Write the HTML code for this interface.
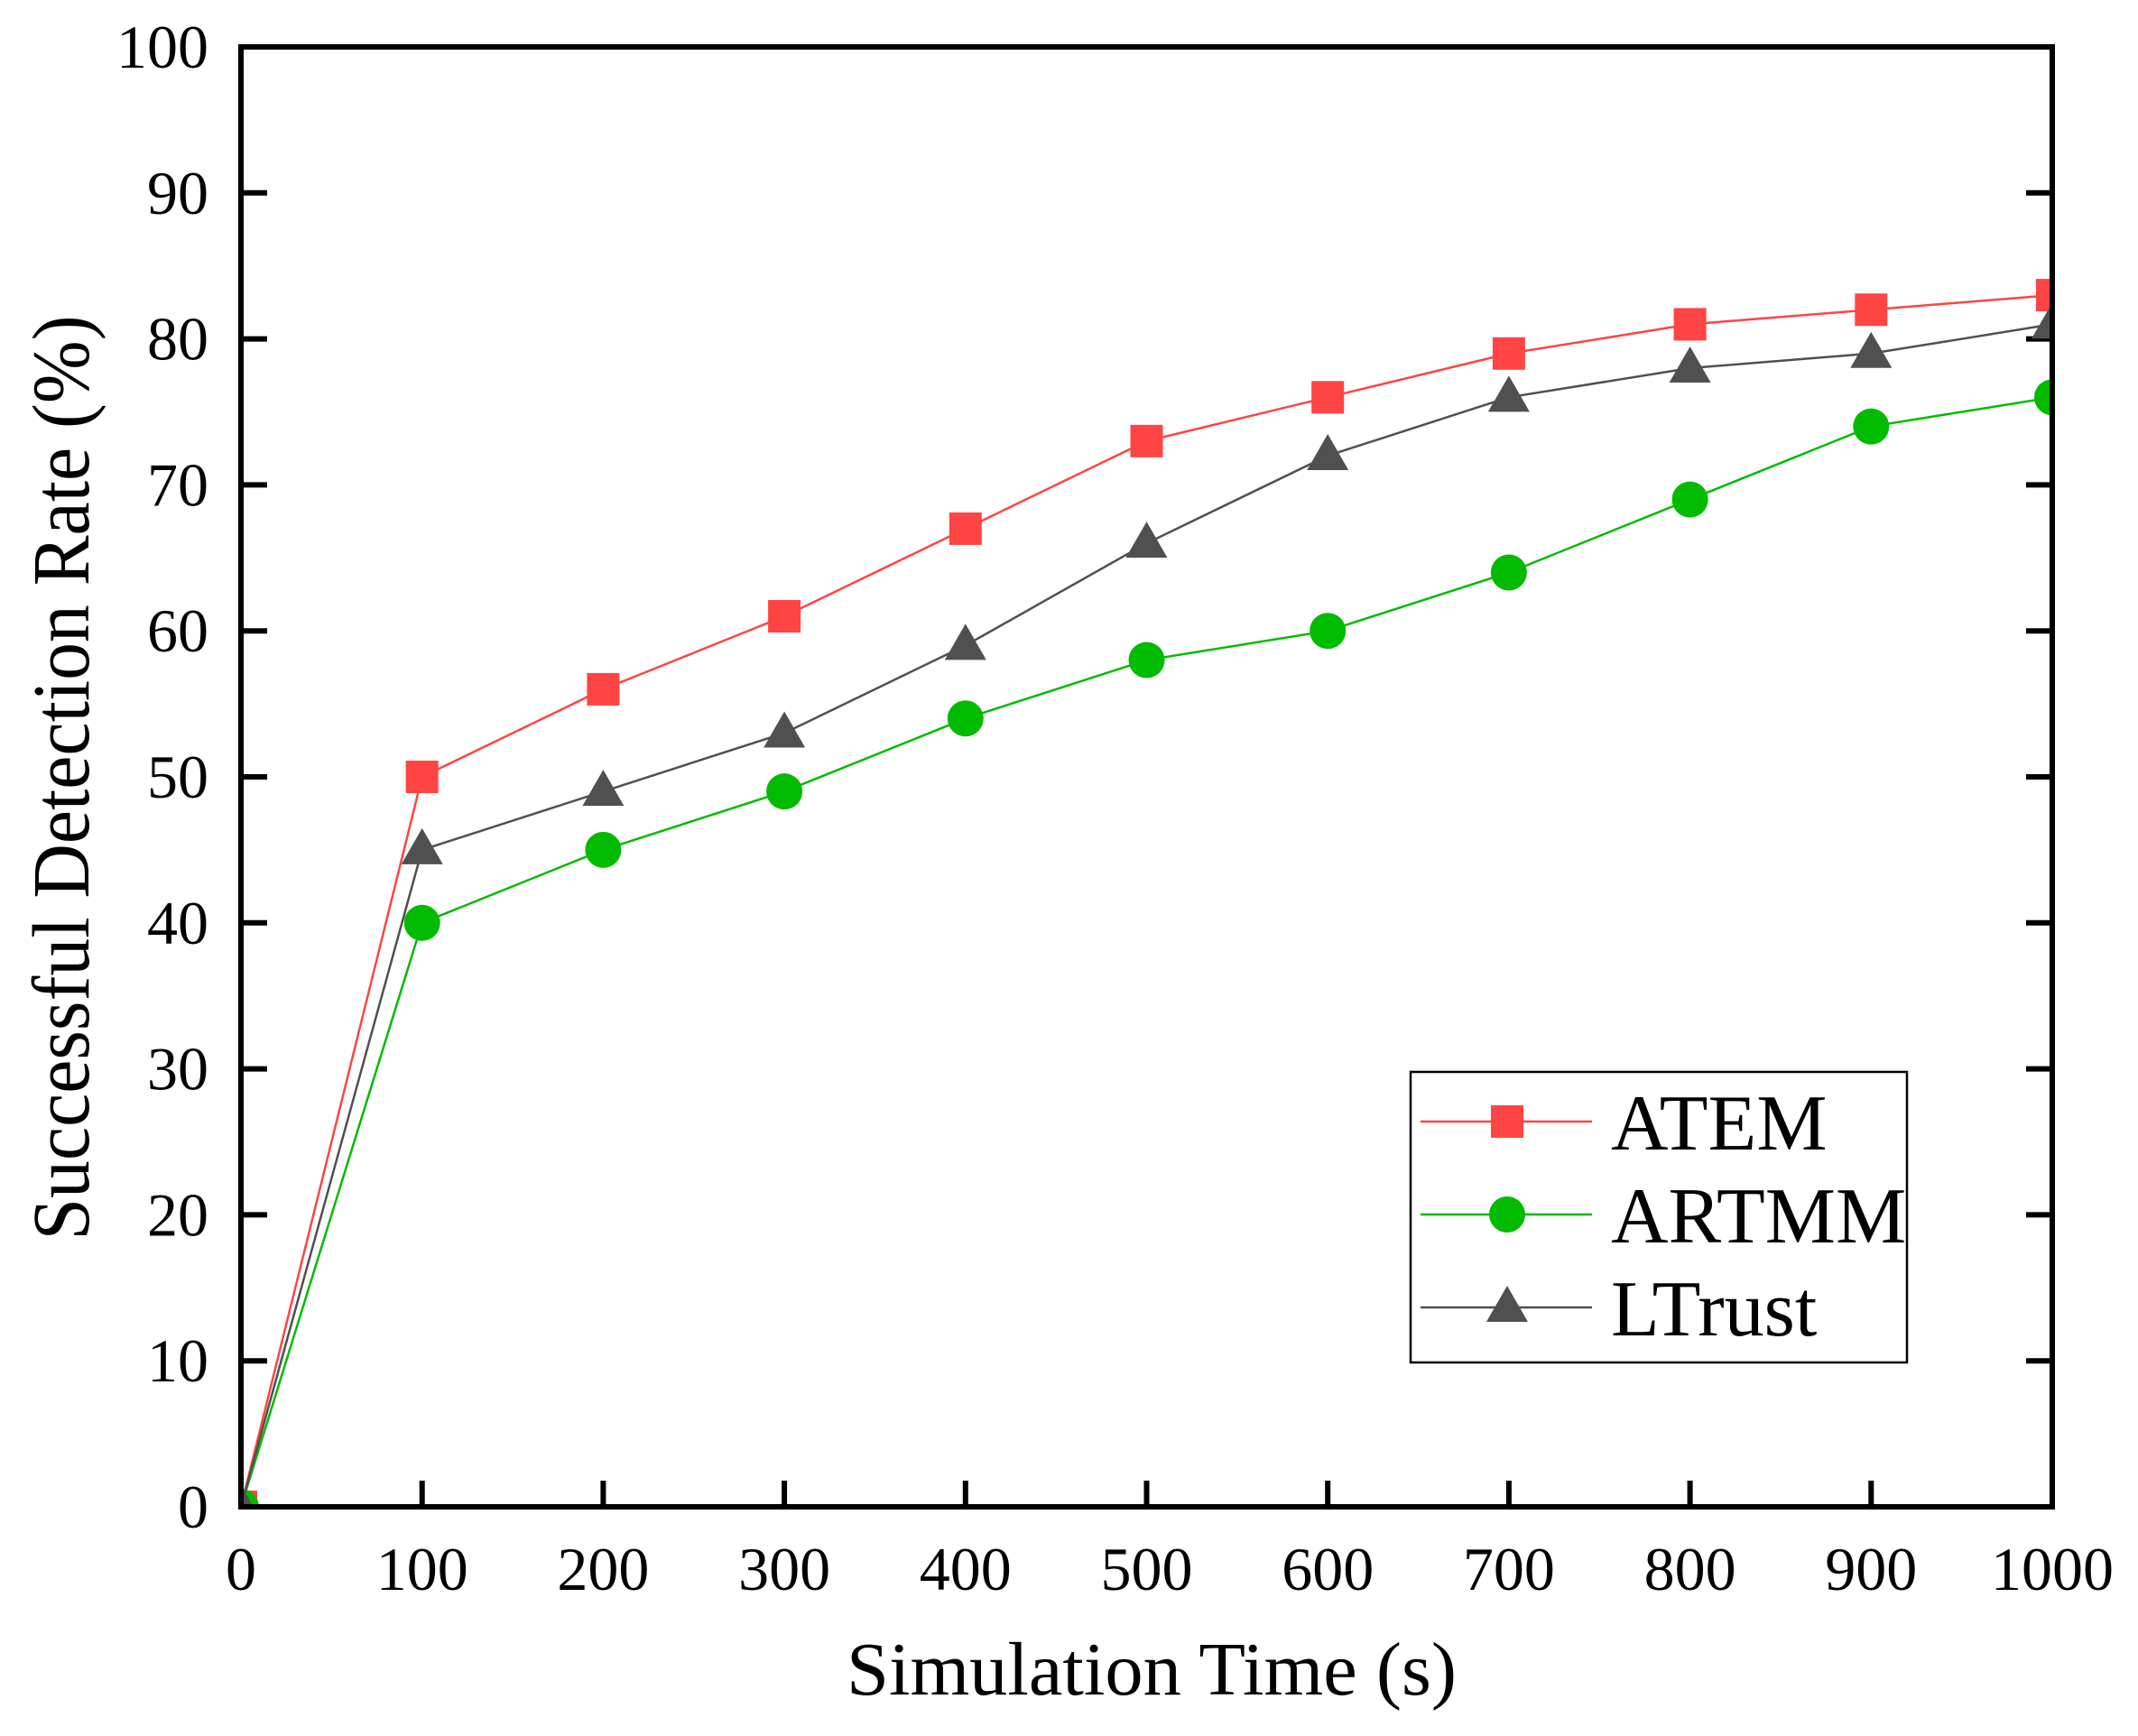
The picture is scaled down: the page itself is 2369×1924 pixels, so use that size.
<!DOCTYPE html>
<html><head><meta charset="utf-8"><style>
html,body{margin:0;padding:0;background:#fff;}
svg{display:block;font-family:"Liberation Serif",serif;}
</style></head><body>
<svg id="chart" width="2369" height="1924" viewBox="0 0 2369 1924" xmlns="http://www.w3.org/2000/svg">
<defs><clipPath id="plotclip"><rect x="267" y="52" width="2007" height="1618"/></clipPath></defs>
<g id="grid-ticks"></g>
<g id="series" clip-path="url(#plotclip)"></g>
<rect x="267" y="52" width="2007" height="1618" fill="none" stroke="#000" stroke-width="6"/>
<g id="labels"></g>
<text x="1276" y="1878" font-size="84" text-anchor="middle" textLength="676" lengthAdjust="spacingAndGlyphs">Simulation Time (s)</text>
<text transform="translate(98,862) rotate(-90)" font-size="90" text-anchor="middle" textLength="1025" lengthAdjust="spacingAndGlyphs">Successful Detection Rate (%)</text>
<g>
<rect x="1563" y="1188" width="550" height="322" fill="#fff" stroke="#000" stroke-width="2.5"/>
<g id="legend-items"></g>
</g>
</svg>
<script>
const xValues=[0,100,200,300,400,500,600,700,800,900,1000];
const atem=[0,50,56,61,67,73,76,79,81,82,83];
const artmm=[0,40,45,49,54,58,60,64,69,74,76];
const ltrust=[0,45,49,53,59,66,72,76,78,79,81];
const xTicks=[0,100,200,300,400,500,600,700,800,900,1000];
const yTicks=[0,10,20,30,40,50,60,70,80,90,100];
const seriesNames=["ATEM","ARTMM","LTrust"];

const NS="http://www.w3.org/2000/svg";
const X0=267,X1=2274,Y0=1670,Y1=52;
function sx(v){return X0+(v-0)/(1000-0)*(X1-X0);}
function sy(v){return Y0-(v-0)/(100-0)*(Y0-Y1);}
function mk(tag,attrs,parent){const e=document.createElementNS(NS,tag);for(const k in attrs)e.setAttribute(k,attrs[k]);parent.appendChild(e);return e;}

const ticks=document.getElementById('grid-ticks');
const labels=document.getElementById('labels');
xTicks.forEach(t=>{
  const l=mk('line',{x1:sx(t),x2:sx(t),y1:Y0,y2:Y0-29,stroke:'#000','stroke-width':6},ticks);
  
  
  const tx=mk('text',{x:sx(t),y:1762,'font-size':68,'text-anchor':'middle'},labels);
  tx.textContent=t;
  
  
});
yTicks.forEach(t=>{
  const l=mk('line',{x1:X0,x2:X0+29,y1:sy(t),y2:sy(t),stroke:'#000','stroke-width':6},ticks);
  
  
  const r=mk('line',{x1:X1,x2:X1-29,y1:sy(t),y2:sy(t),stroke:'#000','stroke-width':6},ticks);
  
  
  const tx=mk('text',{x:231,y:sy(t)+23,'font-size':68,'text-anchor':'end'},labels);
  tx.textContent=t;
  
  
});

function marker(kind,x,y,color,parent){
  let e;
  if(kind==='square'){e=mk('rect',{x:x-18,y:y-18,width:36,height:36,fill:color},parent);}
  else if(kind==='circle'){e=mk('circle',{cx:x,cy:y,r:20,fill:color},parent);}
  else {e=mk('polygon',{points:(x)+','+(y-24)+' '+(x-23)+','+(y+16)+' '+(x+23)+','+(y+16),fill:color},parent);}
  return e;
}
const seriesDefs=[{vals:atem,color:'#ff4444',kind:'square',name:'atem'},{vals:artmm,color:'#00bb00',kind:'circle',name:'artmm'},{vals:ltrust,color:'#505050',kind:'triangle',name:'ltrust'}];
const sg=document.getElementById('series');
seriesDefs.forEach(s=>{
  const g=mk('g',{},sg);
  
  
  const pts=s.vals.map((v,i)=>sx(xValues[i])+','+sy(v)).join(' ');
  const pl=mk('polyline',{points:pts,fill:'none',stroke:s.color,'stroke-width':2.5},g);
  
  
  s.vals.forEach((v,i)=>{
    const m=marker(s.kind,sx(xValues[i]),sy(v),s.color,g);
    
    
  });
});
const lg=document.getElementById('legend-items');
const rowsY=[1243,1346,1449];
seriesDefs.forEach((s,i)=>{
  const g=mk('g',{},lg);
  
  
  mk('line',{x1:1574,x2:1764,y1:rowsY[i],y2:rowsY[i],stroke:s.color,'stroke-width':2.5},g);
  marker(s.kind,1670,rowsY[i],s.color,g);
  const t=mk('text',{x:1785,y:rowsY[i]+31,'font-size':88},g);
  t.textContent=seriesNames[i];
  
  
});
</script>
</body></html>
